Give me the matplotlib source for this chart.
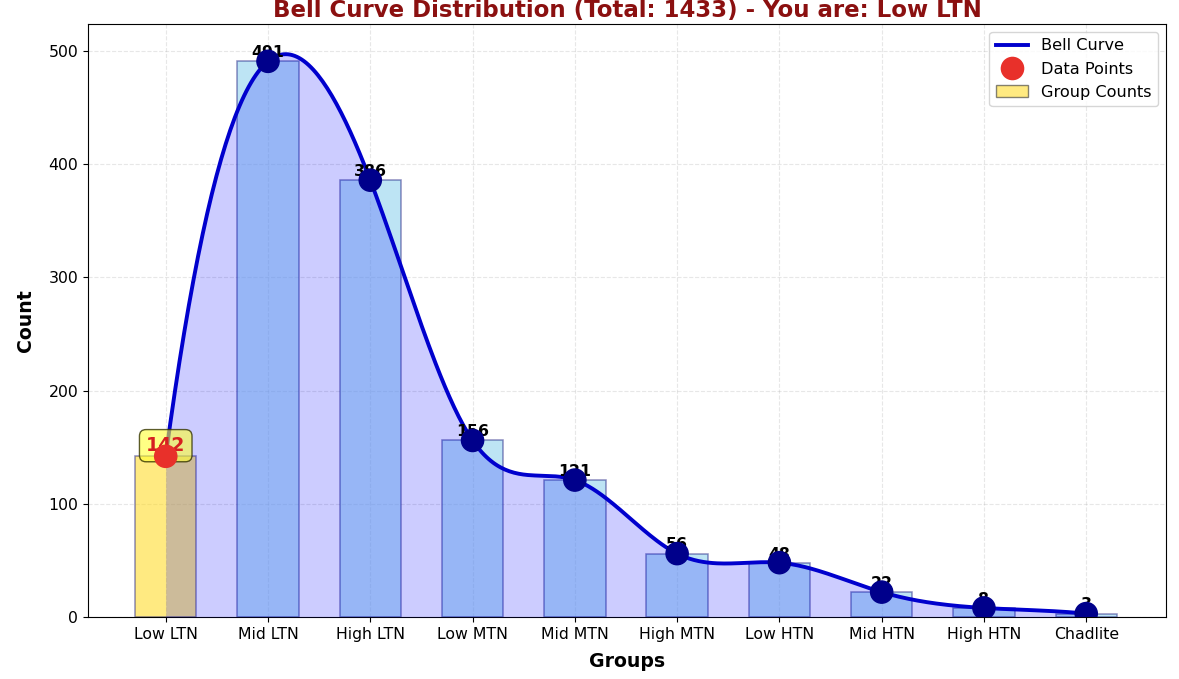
import numpy as np
import matplotlib
matplotlib.use("Agg")
import matplotlib.pyplot as plt
from matplotlib.lines import Line2D
from matplotlib.patches import Patch

groups = ["Low LTN", "Mid LTN", "High LTN", "Low MTN", "Mid MTN",
          "High MTN", "Low HTN", "Mid HTN", "High HTN", "Chadlite"]
counts = [142, 491, 386, 156, 121, 56, 48, 22, 8, 3]
user_group = "Low LTN"
total = sum(counts)


def not_a_knot_spline(x, y, xs):
    x = np.asarray(x, float)
    y = np.asarray(y, float)
    n = len(x)
    h = np.diff(x)
    A = np.zeros((n, n))
    b = np.zeros(n)
    for i in range(1, n - 1):
        A[i, i - 1] = h[i - 1]
        A[i, i] = 2 * (h[i - 1] + h[i])
        A[i, i + 1] = h[i]
        b[i] = 6 * ((y[i + 1] - y[i]) / h[i] - (y[i] - y[i - 1]) / h[i - 1])
    A[0, 0] = h[1]
    A[0, 1] = -(h[0] + h[1])
    A[0, 2] = h[0]
    A[-1, -3] = h[-1]
    A[-1, -2] = -(h[-2] + h[-1])
    A[-1, -1] = h[-2]
    M = np.linalg.solve(A, b)
    idx = np.clip(np.searchsorted(x, xs) - 1, 0, n - 2)
    x0, x1 = x[idx], x[idx + 1]
    hh = x1 - x0
    t0 = x1 - xs
    t1 = xs - x0
    return (M[idx] * t0 ** 3 / (6 * hh) + M[idx + 1] * t1 ** 3 / (6 * hh)
            + (y[idx] / hh - M[idx] * hh / 6) * t0
            + (y[idx + 1] / hh - M[idx + 1] * hh / 6) * t1)


s = 1.13
fig = plt.figure(figsize=(11.79, 6.79), dpi=100)
ax = fig.add_axes([88 / 1179, 1 - 617 / 679, (1166 - 88) / 1179, (617 - 24) / 679])

xpos = np.arange(len(groups))
yellow = (1.0, 0.85, 0.1, 0.55)
colors = [yellow if g == user_group else (0.529, 0.808, 0.922, 0.55)
          for g in groups]
ax.bar(xpos, counts, width=0.6, color=colors,
       edgecolor=(0.1, 0.1, 0.5, 0.5), linewidth=1.1, zorder=2)

xs = np.linspace(xpos[0], xpos[-1], 400)
ys = not_a_knot_spline(xpos, counts, xs)
ax.fill_between(xs, ys, 0, color="blue", alpha=0.2, zorder=3, linewidth=0)
ax.plot(xs, ys, color="#0000CD", lw=2.8, zorder=4)

pt_colors = ["#E8302A" if g == user_group else "#00008B" for g in groups]
ax.scatter(xpos, counts, s=200 * s * s, c=pt_colors, zorder=6)

for x, v, g in zip(xpos, counts, groups):
    if g == user_group:
        ax.text(x, v + 1, str(v), ha="center", va="bottom", fontsize=12 * s,
                fontweight="bold", color="#D62020", zorder=5,
                bbox=dict(boxstyle="round,pad=0.35", facecolor=(1, 1, 0.2, 0.6),
                          edgecolor=(0.2, 0.2, 0.0, 0.8)))
    else:
        ax.text(x, v + 1, str(v), ha="center", va="bottom", fontsize=10 * s,
                fontweight="bold", color="black", zorder=5)

ax.set_xlim(-0.76, 9.78)
ax.set_ylim(0, 524)
ax.set_xticks(xpos)
ax.set_xticklabels(groups, fontsize=10 * s)
ax.set_yticks([0, 100, 200, 300, 400, 500])
ax.tick_params(axis="y", labelsize=10 * s)
ax.set_xlabel("Groups", fontsize=12 * s, fontweight="bold", labelpad=7.5)
ax.set_ylabel("Count", fontsize=12 * s, fontweight="bold", labelpad=10)
ax.set_title(f"Bell Curve Distribution (Total: {total}) - You are: {user_group}",
             fontsize=16.5, fontweight="bold", color="#8B1010", pad=5)
ax.grid(True, linestyle="--", alpha=0.3)
ax.set_axisbelow(True)

handles = [Line2D([0], [0], color="#0000CD", lw=2.8),
           Line2D([0], [0], marker="o", color="none", markerfacecolor="#E8302A",
                  markeredgecolor="none", markersize=17),
           Patch(facecolor=yellow, edgecolor=(0.2, 0.2, 0.2, 0.6))]
ax.legend(handles, ["Bell Curve", "Data Points", "Group Counts"],
          loc="upper right", fontsize=11.6)

fig.savefig("out.png", dpi=100)
